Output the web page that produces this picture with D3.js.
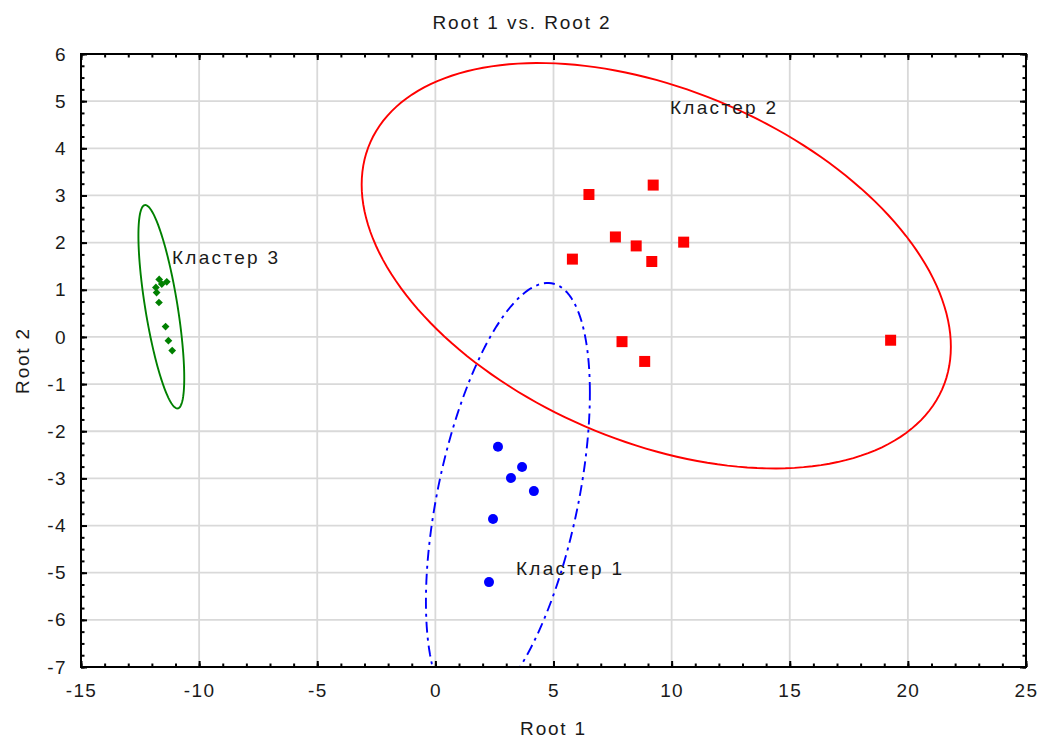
<!DOCTYPE html>
<html>
<head>
<meta charset="utf-8">
<script src="https://cdn.jsdelivr.net/npm/d3@7"></script>
<style>
  html, body { margin: 0; padding: 0; background: #fff; }
  svg { display: block; }
  text { font-family: "Liberation Sans", Arial, sans-serif; fill: #1a1a1a; }
</style>
</head>
<body>
<svg id="chart" width="1041" height="740"></svg>
<script>
// Canonical discriminant scores: Root 1 vs Root 2, three clusters
const xTicks = [-15, -10, -5, 0, 5, 10, 15, 20, 25];
const yTicks = [6, 5, 4, 3, 2, 1, 0, -1, -2, -3, -4, -5, -6, -7];

const cluster1X = [2.65, 3.67, 3.20, 4.17, 2.44, 2.27];
const cluster1Y = [-2.33, -2.76, -2.99, -3.27, -3.86, -5.20];

const cluster2X = [6.50, 9.22, 7.62, 8.50, 5.80, 9.16, 10.51, 7.90, 8.86, 19.27];
const cluster2Y = [3.02, 3.22, 2.12, 1.93, 1.65, 1.60, 2.01, -0.10, -0.52, -0.07];

const cluster3X = [-11.69, -11.37, -11.58, -11.83, -11.80, -11.70, -11.42, -11.30, -11.14];
const cluster3Y = [1.22, 1.17, 1.12, 1.05, 0.94, 0.73, 0.22, -0.08, -0.29];

// Confidence ellipses: centre and two conjugate half-axes, in root units
const ellipseNames = ["Кластер 1", "Кластер 2", "Кластер 3"];
const ellipseCenters = [[3.07, -3.40], [9.35, 1.51], [-11.60, 0.64]];
const ellipseAxisP = [[3.47, 2.21], [12.47, -1.72], [0.97, -1.51]];
const ellipseAxisQ = [[0, 3.97], [0, 3.94], [0, 1.54]];

// Cluster label anchors (left edge, baseline) in root units
const labelX = [3.41, 9.93, -11.15];
const labelY = [-5.05, 4.73, 1.55];

const colors = ["#0000ff", "#ff0000", "#008000"];

const margin = { left: 81, top: 54, right: 15, bottom: 73 };
const W = 1041, H = 740;
const innerW = W - margin.left - margin.right;
const innerH = H - margin.top - margin.bottom;

const svg = d3.select("#chart");
const x = d3.scaleLinear().domain([-15, 25]).range([margin.left, margin.left + innerW]);
const y = d3.scaleLinear().domain([-7, 6]).range([margin.top + innerH, margin.top]);

svg.append("defs").append("clipPath").attr("id", "plotClip")
  .append("rect")
  .attr("x", x(-15)).attr("y", y(6))
  .attr("width", x(25) - x(-15)).attr("height", y(-7) - y(6));

// Grid
const grid = svg.append("g");
grid.selectAll("line.vx").data(xTicks.slice(1, -1)).join("line")
  .attr("x1", d => x(d)).attr("x2", d => x(d))
  .attr("y1", y(6)).attr("y2", y(-7))
  .attr("stroke", "#d9d9d9").attr("stroke-width", 1.8);
grid.selectAll("line.hy").data(yTicks.slice(1, -1)).join("line")
  .attr("x1", x(-15)).attr("x2", x(25))
  .attr("y1", d => y(d)).attr("y2", d => y(d))
  .attr("stroke", "#d9d9d9").attr("stroke-width", 1.8);

// Ellipses
const plot = svg.append("g").attr("clip-path", "url(#plotClip)");
const tSteps = d3.range(0, 361, 2).map(a => a * Math.PI / 180);
const ellipseLine = d3.line().x(d => x(d[0])).y(d => y(d[1]));
ellipseCenters.forEach((c, i) => {
  const p = ellipseAxisP[i], q = ellipseAxisQ[i];
  const pts = tSteps.map(t => [
    c[0] + p[0] * Math.cos(t) + q[0] * Math.sin(t),
    c[1] + p[1] * Math.cos(t) + q[1] * Math.sin(t)
  ]);
  plot.append("path")
    .attr("d", ellipseLine(pts))
    .attr("fill", "none")
    .attr("stroke", colors[i])
    .attr("stroke-width", 1.9)
    .attr("stroke-dasharray", i === 0 ? "11,5,3,5" : null);
});

// Points
const zip = (xs, ys) => xs.map((v, i) => [v, ys[i]]);
plot.selectAll("path.c1").data(zip(cluster1X, cluster1Y)).join("path")
  .attr("d", d3.symbol(d3.symbolCircle, Math.PI * 25))
  .attr("transform", d => `translate(${x(d[0])},${y(d[1])})`)
  .attr("fill", colors[0]);
plot.selectAll("path.c2").data(zip(cluster2X, cluster2Y)).join("path")
  .attr("d", d3.symbol(d3.symbolSquare, 121))
  .attr("transform", d => `translate(${x(d[0])},${y(d[1])})`)
  .attr("fill", colors[1]);
plot.selectAll("path.c3").data(zip(cluster3X, cluster3Y)).join("path")
  .attr("d", d3.symbol(d3.symbolSquare, 30))
  .attr("transform", d => `translate(${x(d[0])},${y(d[1])}) rotate(45)`)
  .attr("fill", colors[2]);

// Cluster labels
svg.selectAll("text.lbl").data(ellipseNames).join("text")
  .attr("x", (d, i) => x(labelX[i]))
  .attr("y", (d, i) => y(labelY[i]))
  .attr("font-size", 19)
  .attr("letter-spacing", 2.3)
  .text(d => d);

// Axes: major and minor ticks pointing inward on all four sides
const fmt = d => String(d).replace("\u2212", "-");
const axisStyle = g => {
  g.select(".domain").remove();
  g.selectAll(".tick line").attr("stroke", "#000").attr("stroke-width", 2);
  g.selectAll(".tick text")
    .attr("font-size", 19).attr("letter-spacing", 1.4)
    .attr("font-family", "'Liberation Sans', Arial, sans-serif")
    .attr("fill", "#1a1a1a");
};
const xMinor = d3.range(-15, 25.01, 1);
const yMinor = d3.range(-7, 6.01, 0.25);

svg.append("g").attr("transform", `translate(0,${y(-7)})`)
  .call(d3.axisBottom(x).tickValues(xMinor).tickSize(-3.5).tickFormat(""))
  .call(axisStyle);
svg.append("g").attr("transform", `translate(0,${y(-7)})`)
  .call(d3.axisBottom(x).tickValues(xTicks).tickSize(-6).tickPadding(17).tickFormat(fmt))
  .call(axisStyle);
svg.append("g").attr("transform", `translate(0,${y(6)})`)
  .call(d3.axisTop(x).tickValues(xMinor).tickSize(-3.5).tickFormat(""))
  .call(axisStyle);
svg.append("g").attr("transform", `translate(0,${y(6)})`)
  .call(d3.axisTop(x).tickValues(xTicks).tickSize(-6).tickFormat(""))
  .call(axisStyle);

svg.append("g").attr("transform", `translate(${x(-15)},0)`)
  .call(d3.axisLeft(y).tickValues(yMinor).tickSize(-3.5).tickFormat(""))
  .call(axisStyle);
svg.append("g").attr("transform", `translate(${x(-15)},0)`)
  .call(d3.axisLeft(y).tickValues(yTicks).tickSize(-6).tickPadding(14).tickFormat(fmt))
  .call(axisStyle);
svg.append("g").attr("transform", `translate(${x(25)},0)`)
  .call(d3.axisRight(y).tickValues(yMinor).tickSize(-3.5).tickFormat(""))
  .call(axisStyle);
svg.append("g").attr("transform", `translate(${x(25)},0)`)
  .call(d3.axisRight(y).tickValues(yTicks).tickSize(-6).tickFormat(""))
  .call(axisStyle);

// Frame
svg.append("rect")
  .attr("x", x(-15)).attr("y", y(6))
  .attr("width", x(25) - x(-15)).attr("height", y(-7) - y(6))
  .attr("fill", "none").attr("stroke", "#000").attr("stroke-width", 2);

// Titles
svg.append("text")
  .attr("x", 522).attr("y", 29)
  .attr("text-anchor", "middle").attr("font-size", 19).attr("letter-spacing", 1.9)
  .text("Root 1 vs. Root 2");
svg.append("text")
  .attr("x", (x(-15) + x(25)) / 2).attr("y", 735)
  .attr("text-anchor", "middle").attr("font-size", 19).attr("letter-spacing", 1.8)
  .text("Root 1");
svg.append("text")
  .attr("transform", `translate(29,${(y(6) + y(-7)) / 2}) rotate(-90)`)
  .attr("text-anchor", "middle").attr("font-size", 19).attr("letter-spacing", 1.8)
  .text("Root 2");
</script>
</body>
</html>
